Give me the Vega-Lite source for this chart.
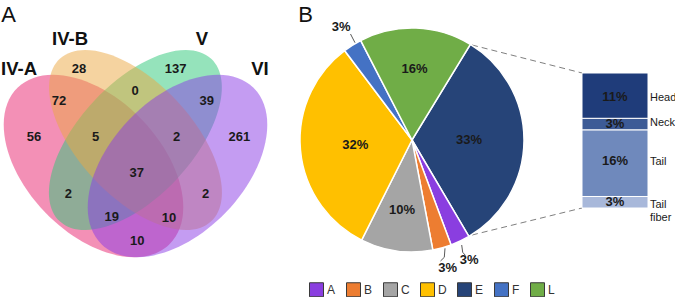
{
  "$schema": "https://vega.github.io/schema/vega-lite/v6.json",
  "width": 675,
  "height": 297,
  "padding": 0,
  "autosize": {"type": "none"},
  "background": "white",
  "config": {
    "view": {"stroke": null},
    "axis": {"disable": true},
    "text": {"font": "Liberation Sans"},
    "legend": {
      "orient": "none",
      "legendX": 309,
      "legendY": 282,
      "direction": "horizontal",
      "symbolType": "square",
      "symbolSize": 196,
      "symbolStrokeColor": "#3a3a3a",
      "symbolStrokeWidth": 1,
      "symbolOpacity": 1,
      "labelFont": "Liberation Sans",
      "labelFontSize": 12,
      "labelColor": "#333333",
      "labelOffset": 3,
      "columnPadding": 8,
      "padding": 0,
      "title": null
    }
  },
  "datasets": {
    "venn": [
      {"set": "IV-A", "cx": 93.5, "cy": 166},
      {"set": "IV-B", "cx": 135.5, "cy": 140},
      {"set": "V", "cx": 135.5, "cy": 140},
      {"set": "VI", "cx": 177.5, "cy": 166}
    ],
    "counts": [
      {"x": 79, "y": 69, "n": "28"},
      {"x": 175.7, "y": 69, "n": "137"},
      {"x": 135, "y": 90.7, "n": "0"},
      {"x": 59, "y": 100.7, "n": "72"},
      {"x": 206.7, "y": 100.7, "n": "39"},
      {"x": 34, "y": 136.7, "n": "56"},
      {"x": 95.7, "y": 136.7, "n": "5"},
      {"x": 176.7, "y": 136.7, "n": "2"},
      {"x": 239.3, "y": 136.7, "n": "261"},
      {"x": 136.7, "y": 173.3, "n": "37"},
      {"x": 68.3, "y": 194, "n": "2"},
      {"x": 205.7, "y": 194, "n": "2"},
      {"x": 111.7, "y": 217.3, "n": "19"},
      {"x": 169, "y": 218.3, "n": "10"},
      {"x": 137.3, "y": 240.7, "n": "10"}
    ],
    "setlabels": [
      {"x": 19, "y": 68.5, "t": "IV-A"},
      {"x": 70, "y": 38.5, "t": "IV-B"},
      {"x": 202, "y": 38.5, "t": "V"},
      {"x": 260, "y": 68.5, "t": "VI"}
    ],
    "panels": [
      {"x": 8.5, "y": 15, "t": "A"},
      {"x": 305.5, "y": 15, "t": "B"}
    ],
    "pie": [
      {"slice": "E", "pct": 0.328, "ord": 1},
      {"slice": "A", "pct": 0.028, "ord": 2},
      {"slice": "B", "pct": 0.027, "ord": 3},
      {"slice": "C", "pct": 0.104, "ord": 4},
      {"slice": "D", "pct": 0.323, "ord": 5},
      {"slice": "F", "pct": 0.027, "ord": 6},
      {"slice": "L", "pct": 0.163, "ord": 7}
    ],
    "leaders": [
      {"g": "F", "o": 1, "x": 355, "y": 42.7},
      {"g": "F", "o": 2, "x": 350.5, "y": 34},
      {"g": "B", "o": 1, "x": 445, "y": 248.3},
      {"g": "B", "o": 2, "x": 444.3, "y": 257.3},
      {"g": "B", "o": 3, "x": 440.5, "y": 261},
      {"g": "A", "o": 1, "x": 461.7, "y": 245},
      {"g": "A", "o": 2, "x": 462.7, "y": 252.3},
      {"g": "A", "o": 3, "x": 465.5, "y": 255.5}
    ],
    "connectors": [
      {"x": 472, "y": 45, "x2": 582, "y2": 73},
      {"x": 472, "y": 235, "x2": 582, "y2": 208}
    ],
    "bar": [
      {"part": "Tail fiber", "pct": 0.028, "ord": 1},
      {"part": "Tail", "pct": 0.162, "ord": 2},
      {"part": "Neck", "pct": 0.028, "ord": 3},
      {"part": "Head", "pct": 0.11, "ord": 4}
    ]
  },
  "layer": [
    {
      "layer": [
        {
          "data": {"name": "venn"},
          "transform": [{"filter": "datum.set === 'IV-A'"}],
          "mark": {"type": "point", "filled": true, "shape": "M1,0 C1,0.3397 0.5523,0.615 0,0.615 C-0.5523,0.615 -1,0.3397 -1,0 C-1,-0.3397 -0.5523,-0.615 0,-0.615 C0.5523,-0.615 1,-0.3397 1,0 Z", "size": 47524, "angle": 46, "color": "#e8216e", "opacity": 0.5, "strokeWidth": 0},
          "encoding": {
            "x": {"field": "cx", "type": "quantitative", "scale": {"domain": [0, 675], "nice": false, "zero": false}},
            "y": {"field": "cy", "type": "quantitative", "scale": {"domain": [0, 297], "nice": false, "zero": false, "reverse": true}}
          }
        },
        {
          "data": {"name": "venn"},
          "transform": [{"filter": "datum.set === 'V'"}],
          "mark": {"type": "point", "filled": true, "shape": "M1,0 C1,0.2836 0.5523,0.5135 0,0.5135 C-0.5523,0.5135 -1,0.2836 -1,0 C-1,-0.2836 -0.5523,-0.5135 0,-0.5135 C0.5523,-0.5135 1,-0.2836 1,0 Z", "size": 49284, "angle": -47, "color": "#2bc777", "opacity": 0.5, "strokeWidth": 0},
          "encoding": {
            "x": {"field": "cx", "type": "quantitative"},
            "y": {"field": "cy", "type": "quantitative"}
          }
        },
        {
          "data": {"name": "venn"},
          "transform": [{"filter": "datum.set === 'IV-B'"}],
          "mark": {"type": "point", "filled": true, "shape": "M1,0 C1,0.2836 0.5523,0.5135 0,0.5135 C-0.5523,0.5135 -1,0.2836 -1,0 C-1,-0.2836 -0.5523,-0.5135 0,-0.5135 C0.5523,-0.5135 1,-0.2836 1,0 Z", "size": 49284, "angle": 47, "color": "#eba741", "opacity": 0.5, "strokeWidth": 0},
          "encoding": {
            "x": {"field": "cx", "type": "quantitative"},
            "y": {"field": "cy", "type": "quantitative"}
          }
        },
        {
          "data": {"name": "venn"},
          "transform": [{"filter": "datum.set === 'VI'"}],
          "mark": {"type": "point", "filled": true, "shape": "M1,0 C1,0.3397 0.5523,0.615 0,0.615 C-0.5523,0.615 -1,0.3397 -1,0 C-1,-0.3397 -0.5523,-0.615 0,-0.615 C0.5523,-0.615 1,-0.3397 1,0 Z", "size": 47524, "angle": -46, "color": "#8939e5", "opacity": 0.5, "strokeWidth": 0},
          "encoding": {
            "x": {"field": "cx", "type": "quantitative"},
            "y": {"field": "cy", "type": "quantitative"}
          }
        },
        {
          "data": {"name": "counts"},
          "mark": {"type": "text", "fontSize": 13, "fontWeight": "bold", "color": "#1a1a1a", "align": "center", "baseline": "middle"},
          "encoding": {
            "x": {"field": "x", "type": "quantitative"},
            "y": {"field": "y", "type": "quantitative"},
            "text": {"field": "n"}
          }
        },
        {
          "data": {"name": "setlabels"},
          "mark": {"type": "text", "fontSize": 18.5, "fontWeight": "bold", "color": "#111111", "align": "center", "baseline": "middle"},
          "encoding": {
            "x": {"field": "x", "type": "quantitative"},
            "y": {"field": "y", "type": "quantitative"},
            "text": {"field": "t"}
          }
        },
        {
          "data": {"name": "panels"},
          "mark": {"type": "text", "fontSize": 22, "color": "#111111", "align": "center", "baseline": "middle"},
          "encoding": {
            "x": {"field": "x", "type": "quantitative"},
            "y": {"field": "y", "type": "quantitative"},
            "text": {"field": "t"}
          }
        },
        {
          "data": {"name": "connectors"},
          "mark": {"type": "rule", "color": "#7f7f7f", "strokeWidth": 1, "strokeDash": [6, 4]},
          "encoding": {
            "x": {"field": "x", "type": "quantitative"},
            "y": {"field": "y", "type": "quantitative"},
            "x2": {"field": "x2"},
            "y2": {"field": "y2"}
          }
        },
        {
          "data": {"name": "pie"},
          "mark": {"type": "arc", "outerRadius": 112, "stroke": "white", "strokeWidth": 1.5},
          "encoding": {
            "x": {"datum": 412},
            "y": {"datum": 140},
            "theta": {"field": "pct", "type": "quantitative", "stack": true, "scale": {"range": [0.548, 6.831]}},
            "order": {"field": "ord", "type": "quantitative"},
            "color": {"field": "slice", "type": "nominal", "scale": {"domain": ["A", "B", "C", "D", "E", "F", "L"], "range": ["#8a3ee0", "#ed7d31", "#a5a5a5", "#ffc000", "#264478", "#4472c4", "#70ad47"]}}
          }
        },
        {
          "data": {"name": "pie"},
          "mark": {"type": "text", "radius": 57, "fontSize": 13, "fontWeight": "bold", "color": "#1a1a1a", "align": "center", "baseline": "middle"},
          "encoding": {
            "x": {"datum": 412},
            "y": {"datum": 140},
            "theta": {"field": "pct", "type": "quantitative", "stack": true, "scale": {"range": [0.548, 6.831]}},
            "order": {"field": "ord", "type": "quantitative"},
            "text": {"condition": {"test": "datum.slice === 'E' || datum.slice === 'D'", "field": "pct", "format": ".0%"}, "value": ""}
          }
        },
        {
          "data": {"name": "pie"},
          "mark": {"type": "text", "radius": 71, "fontSize": 13, "fontWeight": "bold", "color": "#1a1a1a", "align": "center", "baseline": "middle"},
          "encoding": {
            "x": {"datum": 412},
            "y": {"datum": 140},
            "theta": {"field": "pct", "type": "quantitative", "stack": true, "scale": {"range": [0.548, 6.831]}},
            "order": {"field": "ord", "type": "quantitative"},
            "text": {"condition": {"test": "datum.slice === 'L' || datum.slice === 'C'", "field": "pct", "format": ".0%"}, "value": ""}
          }
        },
        {
          "data": {"name": "pie"},
          "mark": {"type": "text", "radius": 133, "fontSize": 13, "fontWeight": "bold", "color": "#1a1a1a", "align": "center", "baseline": "middle"},
          "encoding": {
            "x": {"datum": 412},
            "y": {"datum": 140},
            "theta": {"field": "pct", "type": "quantitative", "stack": true, "scale": {"range": [0.548, 6.831]}},
            "order": {"field": "ord", "type": "quantitative"},
            "text": {"condition": {"test": "datum.slice === 'A' || datum.slice === 'B' || datum.slice === 'F'", "field": "pct", "format": ".0%"}, "value": ""}
          }
        },
        {
          "data": {"name": "leaders"},
          "mark": {"type": "line", "color": "#595959", "strokeWidth": 1},
          "encoding": {
            "x": {"field": "x", "type": "quantitative"},
            "y": {"field": "y", "type": "quantitative"},
            "detail": {"field": "g"},
            "order": {"field": "o", "type": "quantitative"}
          }
        }
      ]
    },
    {
      "data": {"name": "bar"},
      "transform": [
        {"stack": "pct", "groupby": [], "sort": [{"field": "ord", "order": "ascending"}], "as": ["v0", "v1"]}
      ],
      "layer": [
        {
          "mark": {"type": "bar", "stroke": "white", "strokeWidth": 1},
          "encoding": {
            "x": {"datum": 582},
            "x2": {"datum": 648},
            "y": {"field": "v0", "type": "quantitative", "scale": {"domain": [-0.2162, 0.5054], "nice": false, "zero": false}},
            "y2": {"field": "v1"},
            "fill": {"field": "part", "type": "nominal", "legend": null, "scale": {"domain": ["Head", "Neck", "Tail", "Tail fiber"], "range": ["#1f3c7a", "#3d5b96", "#6f89bc", "#a8b8da"]}}
          }
        },
        {
          "transform": [{"filter": "datum.part === 'Head'"}],
          "layer": [
            {
              "mark": {"type": "text", "fontSize": 13, "fontWeight": "bold", "color": "#1a1a1a", "align": "center", "baseline": "middle", "dy": 24},
              "encoding": {"x": {"datum": 615}, "y": {"field": "v1", "type": "quantitative"}, "text": {"field": "pct", "format": ".0%"}}
            },
            {
              "mark": {"type": "text", "fontSize": 11, "color": "#1a1a1a", "align": "left", "baseline": "middle", "dy": 25},
              "encoding": {"x": {"datum": 650}, "y": {"field": "v1", "type": "quantitative"}, "text": {"field": "part"}}
            }
          ]
        },
        {
          "transform": [{"filter": "datum.part === 'Neck'"}],
          "layer": [
            {
              "mark": {"type": "text", "fontSize": 13, "fontWeight": "bold", "color": "#1a1a1a", "align": "center", "baseline": "middle", "dy": 6},
              "encoding": {"x": {"datum": 615}, "y": {"field": "v1", "type": "quantitative"}, "text": {"field": "pct", "format": ".0%"}}
            },
            {
              "mark": {"type": "text", "fontSize": 11, "color": "#1a1a1a", "align": "left", "baseline": "middle", "dy": 5},
              "encoding": {"x": {"datum": 650}, "y": {"field": "v1", "type": "quantitative"}, "text": {"field": "part"}}
            }
          ]
        },
        {
          "transform": [{"filter": "datum.part === 'Tail'"}],
          "layer": [
            {
              "mark": {"type": "text", "fontSize": 13, "fontWeight": "bold", "color": "#1a1a1a", "align": "center", "baseline": "middle", "dy": 31},
              "encoding": {"x": {"datum": 615}, "y": {"field": "v1", "type": "quantitative"}, "text": {"field": "pct", "format": ".0%"}}
            },
            {
              "mark": {"type": "text", "fontSize": 11, "color": "#1a1a1a", "align": "left", "baseline": "middle", "dy": 32},
              "encoding": {"x": {"datum": 650}, "y": {"field": "v1", "type": "quantitative"}, "text": {"field": "part"}}
            }
          ]
        },
        {
          "transform": [{"filter": "datum.part === 'Tail fiber'"}],
          "layer": [
            {
              "mark": {"type": "text", "fontSize": 13, "fontWeight": "bold", "color": "#1a1a1a", "align": "center", "baseline": "middle", "dy": 6},
              "encoding": {"x": {"datum": 615}, "y": {"field": "v1", "type": "quantitative"}, "text": {"field": "pct", "format": ".0%"}}
            },
            {
              "mark": {"type": "text", "fontSize": 11, "color": "#1a1a1a", "align": "left", "baseline": "middle", "dy": 9, "lineBreak": " ", "lineHeight": 13},
              "encoding": {"x": {"datum": 650}, "y": {"field": "v1", "type": "quantitative"}, "text": {"field": "part"}}
            }
          ]
        }
      ]
    }
  ],
  "resolve": {"scale": {"y": "independent"}}
}
